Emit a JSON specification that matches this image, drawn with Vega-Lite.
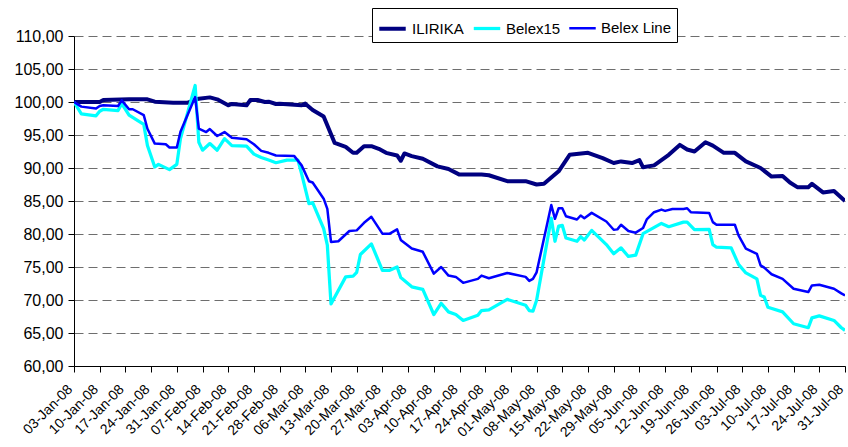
{
  "$schema": "https://vega.github.io/schema/vega-lite/v6.json",
  "width": 771,
  "height": 330,
  "autosize": "none",
  "padding": {"left": 74, "top": 36, "right": 3, "bottom": 81},
  "background": "white",
  "config": {
    "view": {"stroke": null},
    "font": "Liberation Sans"
  },
  "data": {
    "values": [
      {"date":"2008-01-03","series":"ILIRIKA","value":100.0},
      {"date":"2008-01-10","series":"ILIRIKA","value":100.0},
      {"date":"2008-01-11","series":"ILIRIKA","value":100.3},
      {"date":"2008-01-18","series":"ILIRIKA","value":100.4},
      {"date":"2008-01-23","series":"ILIRIKA","value":100.4},
      {"date":"2008-01-25","series":"ILIRIKA","value":100.05},
      {"date":"2008-01-30","series":"ILIRIKA","value":99.9},
      {"date":"2008-02-03","series":"ILIRIKA","value":99.9},
      {"date":"2008-02-06","series":"ILIRIKA","value":100.5},
      {"date":"2008-02-09","series":"ILIRIKA","value":100.7},
      {"date":"2008-02-11","series":"ILIRIKA","value":100.4},
      {"date":"2008-02-14","series":"ILIRIKA","value":99.5},
      {"date":"2008-02-15","series":"ILIRIKA","value":99.7},
      {"date":"2008-02-19","series":"ILIRIKA","value":99.5},
      {"date":"2008-02-20","series":"ILIRIKA","value":100.3},
      {"date":"2008-02-22","series":"ILIRIKA","value":100.3},
      {"date":"2008-02-24","series":"ILIRIKA","value":100.0},
      {"date":"2008-02-25","series":"ILIRIKA","value":100.05},
      {"date":"2008-02-27","series":"ILIRIKA","value":99.7},
      {"date":"2008-02-28","series":"ILIRIKA","value":99.75},
      {"date":"2008-03-05","series":"ILIRIKA","value":99.5},
      {"date":"2008-03-06","series":"ILIRIKA","value":99.75},
      {"date":"2008-03-08","series":"ILIRIKA","value":98.8},
      {"date":"2008-03-11","series":"ILIRIKA","value":97.8},
      {"date":"2008-03-14","series":"ILIRIKA","value":93.8},
      {"date":"2008-03-17","series":"ILIRIKA","value":93.2},
      {"date":"2008-03-19","series":"ILIRIKA","value":92.3},
      {"date":"2008-03-20","series":"ILIRIKA","value":92.3},
      {"date":"2008-03-22","series":"ILIRIKA","value":93.3},
      {"date":"2008-03-24","series":"ILIRIKA","value":93.3},
      {"date":"2008-03-26","series":"ILIRIKA","value":92.9},
      {"date":"2008-03-28","series":"ILIRIKA","value":92.3},
      {"date":"2008-03-31","series":"ILIRIKA","value":91.9},
      {"date":"2008-04-01","series":"ILIRIKA","value":91.1},
      {"date":"2008-04-02","series":"ILIRIKA","value":92.2},
      {"date":"2008-04-04","series":"ILIRIKA","value":91.8},
      {"date":"2008-04-07","series":"ILIRIKA","value":91.4},
      {"date":"2008-04-11","series":"ILIRIKA","value":90.25},
      {"date":"2008-04-14","series":"ILIRIKA","value":89.85},
      {"date":"2008-04-17","series":"ILIRIKA","value":89.0},
      {"date":"2008-04-23","series":"ILIRIKA","value":89.0},
      {"date":"2008-04-25","series":"ILIRIKA","value":88.9},
      {"date":"2008-04-30","series":"ILIRIKA","value":88.0},
      {"date":"2008-05-05","series":"ILIRIKA","value":88.0},
      {"date":"2008-05-08","series":"ILIRIKA","value":87.5},
      {"date":"2008-05-10","series":"ILIRIKA","value":87.6},
      {"date":"2008-05-14","series":"ILIRIKA","value":89.5},
      {"date":"2008-05-17","series":"ILIRIKA","value":92.0},
      {"date":"2008-05-22","series":"ILIRIKA","value":92.3},
      {"date":"2008-05-26","series":"ILIRIKA","value":91.5},
      {"date":"2008-05-29","series":"ILIRIKA","value":90.75},
      {"date":"2008-05-31","series":"ILIRIKA","value":91.0},
      {"date":"2008-06-03","series":"ILIRIKA","value":90.75},
      {"date":"2008-06-05","series":"ILIRIKA","value":91.2},
      {"date":"2008-06-06","series":"ILIRIKA","value":90.1},
      {"date":"2008-06-09","series":"ILIRIKA","value":90.4},
      {"date":"2008-06-13","series":"ILIRIKA","value":92.0},
      {"date":"2008-06-16","series":"ILIRIKA","value":93.5},
      {"date":"2008-06-18","series":"ILIRIKA","value":92.8},
      {"date":"2008-06-20","series":"ILIRIKA","value":92.5},
      {"date":"2008-06-23","series":"ILIRIKA","value":93.9},
      {"date":"2008-06-25","series":"ILIRIKA","value":93.4},
      {"date":"2008-06-28","series":"ILIRIKA","value":92.3},
      {"date":"2008-07-01","series":"ILIRIKA","value":92.3},
      {"date":"2008-07-04","series":"ILIRIKA","value":91.0},
      {"date":"2008-07-08","series":"ILIRIKA","value":90.0},
      {"date":"2008-07-11","series":"ILIRIKA","value":88.7},
      {"date":"2008-07-14","series":"ILIRIKA","value":88.8},
      {"date":"2008-07-16","series":"ILIRIKA","value":87.8},
      {"date":"2008-07-18","series":"ILIRIKA","value":87.1},
      {"date":"2008-07-21","series":"ILIRIKA","value":87.1},
      {"date":"2008-07-22","series":"ILIRIKA","value":87.6},
      {"date":"2008-07-25","series":"ILIRIKA","value":86.3},
      {"date":"2008-07-28","series":"ILIRIKA","value":86.5},
      {"date":"2008-07-31","series":"ILIRIKA","value":85.0},

      {"date":"2008-01-03","series":"Belex15","value":100.0},
      {"date":"2008-01-05","series":"Belex15","value":98.2},
      {"date":"2008-01-09","series":"Belex15","value":97.9},
      {"date":"2008-01-10","series":"Belex15","value":98.6},
      {"date":"2008-01-11","series":"Belex15","value":98.9},
      {"date":"2008-01-15","series":"Belex15","value":98.7},
      {"date":"2008-01-16","series":"Belex15","value":99.75},
      {"date":"2008-01-18","series":"Belex15","value":98.0},
      {"date":"2008-01-22","series":"Belex15","value":96.6},
      {"date":"2008-01-23","series":"Belex15","value":93.4},
      {"date":"2008-01-25","series":"Belex15","value":90.15},
      {"date":"2008-01-26","series":"Belex15","value":90.55},
      {"date":"2008-01-29","series":"Belex15","value":89.75},
      {"date":"2008-01-31","series":"Belex15","value":90.55},
      {"date":"2008-02-01","series":"Belex15","value":94.45},
      {"date":"2008-02-05","series":"Belex15","value":102.5},
      {"date":"2008-02-06","series":"Belex15","value":93.9},
      {"date":"2008-02-07","series":"Belex15","value":92.7},
      {"date":"2008-02-09","series":"Belex15","value":93.7},
      {"date":"2008-02-11","series":"Belex15","value":92.7},
      {"date":"2008-02-13","series":"Belex15","value":94.45},
      {"date":"2008-02-15","series":"Belex15","value":93.4},
      {"date":"2008-02-19","series":"Belex15","value":93.3},
      {"date":"2008-02-21","series":"Belex15","value":92.1},
      {"date":"2008-02-23","series":"Belex15","value":91.6},
      {"date":"2008-02-25","series":"Belex15","value":91.2},
      {"date":"2008-02-27","series":"Belex15","value":90.8},
      {"date":"2008-03-01","series":"Belex15","value":91.2},
      {"date":"2008-03-04","series":"Belex15","value":91.2},
      {"date":"2008-03-05","series":"Belex15","value":89.1},
      {"date":"2008-03-07","series":"Belex15","value":84.6},
      {"date":"2008-03-08","series":"Belex15","value":84.75},
      {"date":"2008-03-11","series":"Belex15","value":80.8},
      {"date":"2008-03-12","series":"Belex15","value":78.3},
      {"date":"2008-03-13","series":"Belex15","value":69.4},
      {"date":"2008-03-17","series":"Belex15","value":73.5},
      {"date":"2008-03-19","series":"Belex15","value":73.6},
      {"date":"2008-03-20","series":"Belex15","value":74.2},
      {"date":"2008-03-21","series":"Belex15","value":76.9},
      {"date":"2008-03-24","series":"Belex15","value":78.5},
      {"date":"2008-03-27","series":"Belex15","value":74.5},
      {"date":"2008-03-29","series":"Belex15","value":74.5},
      {"date":"2008-03-31","series":"Belex15","value":75.0},
      {"date":"2008-04-01","series":"Belex15","value":73.4},
      {"date":"2008-04-04","series":"Belex15","value":72.0},
      {"date":"2008-04-07","series":"Belex15","value":71.6},
      {"date":"2008-04-10","series":"Belex15","value":67.8},
      {"date":"2008-04-12","series":"Belex15","value":69.5},
      {"date":"2008-04-14","series":"Belex15","value":68.2},
      {"date":"2008-04-16","series":"Belex15","value":67.8},
      {"date":"2008-04-18","series":"Belex15","value":66.9},
      {"date":"2008-04-22","series":"Belex15","value":67.7},
      {"date":"2008-04-23","series":"Belex15","value":68.4},
      {"date":"2008-04-25","series":"Belex15","value":68.5},
      {"date":"2008-04-30","series":"Belex15","value":70.1},
      {"date":"2008-05-05","series":"Belex15","value":69.2},
      {"date":"2008-05-06","series":"Belex15","value":68.4},
      {"date":"2008-05-07","series":"Belex15","value":68.3},
      {"date":"2008-05-08","series":"Belex15","value":69.95},
      {"date":"2008-05-12","series":"Belex15","value":82.4},
      {"date":"2008-05-13","series":"Belex15","value":78.9},
      {"date":"2008-05-14","series":"Belex15","value":81.2},
      {"date":"2008-05-15","series":"Belex15","value":81.3},
      {"date":"2008-05-16","series":"Belex15","value":79.4},
      {"date":"2008-05-19","series":"Belex15","value":78.9},
      {"date":"2008-05-20","series":"Belex15","value":79.6},
      {"date":"2008-05-21","series":"Belex15","value":79.1},
      {"date":"2008-05-23","series":"Belex15","value":80.55},
      {"date":"2008-05-27","series":"Belex15","value":78.4},
      {"date":"2008-05-29","series":"Belex15","value":77.0},
      {"date":"2008-05-31","series":"Belex15","value":77.9},
      {"date":"2008-06-02","series":"Belex15","value":76.6},
      {"date":"2008-06-04","series":"Belex15","value":76.8},
      {"date":"2008-06-06","series":"Belex15","value":80.05},
      {"date":"2008-06-11","series":"Belex15","value":81.6},
      {"date":"2008-06-13","series":"Belex15","value":81.1},
      {"date":"2008-06-17","series":"Belex15","value":81.8},
      {"date":"2008-06-18","series":"Belex15","value":81.8},
      {"date":"2008-06-20","series":"Belex15","value":80.65},
      {"date":"2008-06-24","series":"Belex15","value":80.7},
      {"date":"2008-06-25","series":"Belex15","value":78.4},
      {"date":"2008-06-26","series":"Belex15","value":78.0},
      {"date":"2008-06-30","series":"Belex15","value":77.9},
      {"date":"2008-07-02","series":"Belex15","value":75.4},
      {"date":"2008-07-04","series":"Belex15","value":74.1},
      {"date":"2008-07-07","series":"Belex15","value":73.2},
      {"date":"2008-07-08","series":"Belex15","value":70.7},
      {"date":"2008-07-09","series":"Belex15","value":70.45},
      {"date":"2008-07-10","series":"Belex15","value":68.9},
      {"date":"2008-07-14","series":"Belex15","value":68.2},
      {"date":"2008-07-17","series":"Belex15","value":66.4},
      {"date":"2008-07-21","series":"Belex15","value":65.8},
      {"date":"2008-07-22","series":"Belex15","value":67.3},
      {"date":"2008-07-24","series":"Belex15","value":67.6},
      {"date":"2008-07-28","series":"Belex15","value":66.9},
      {"date":"2008-07-30","series":"Belex15","value":65.8},
      {"date":"2008-07-31","series":"Belex15","value":65.4},

      {"date":"2008-01-03","series":"Belex Line","value":100.0},
      {"date":"2008-01-05","series":"Belex Line","value":99.3},
      {"date":"2008-01-09","series":"Belex Line","value":99.0},
      {"date":"2008-01-10","series":"Belex Line","value":99.4},
      {"date":"2008-01-11","series":"Belex Line","value":99.5},
      {"date":"2008-01-15","series":"Belex Line","value":99.4},
      {"date":"2008-01-16","series":"Belex Line","value":100.25},
      {"date":"2008-01-18","series":"Belex Line","value":98.9},
      {"date":"2008-01-19","series":"Belex Line","value":98.9},
      {"date":"2008-01-22","series":"Belex Line","value":98.0},
      {"date":"2008-01-23","series":"Belex Line","value":95.95},
      {"date":"2008-01-25","series":"Belex Line","value":93.7},
      {"date":"2008-01-28","series":"Belex Line","value":93.6},
      {"date":"2008-01-29","series":"Belex Line","value":93.1},
      {"date":"2008-01-31","series":"Belex Line","value":93.1},
      {"date":"2008-02-01","series":"Belex Line","value":95.5},
      {"date":"2008-02-05","series":"Belex Line","value":100.75},
      {"date":"2008-02-06","series":"Belex Line","value":95.95},
      {"date":"2008-02-08","series":"Belex Line","value":95.45},
      {"date":"2008-02-09","series":"Belex Line","value":95.9},
      {"date":"2008-02-11","series":"Belex Line","value":94.85},
      {"date":"2008-02-13","series":"Belex Line","value":95.45},
      {"date":"2008-02-15","series":"Belex Line","value":94.6},
      {"date":"2008-02-19","series":"Belex Line","value":94.35},
      {"date":"2008-02-21","series":"Belex Line","value":93.6},
      {"date":"2008-02-23","series":"Belex Line","value":92.6},
      {"date":"2008-02-25","series":"Belex Line","value":92.3},
      {"date":"2008-02-27","series":"Belex Line","value":91.9},
      {"date":"2008-03-03","series":"Belex Line","value":91.8},
      {"date":"2008-03-05","series":"Belex Line","value":90.4},
      {"date":"2008-03-07","series":"Belex Line","value":88.0},
      {"date":"2008-03-08","series":"Belex Line","value":87.8},
      {"date":"2008-03-11","series":"Belex Line","value":85.35},
      {"date":"2008-03-12","series":"Belex Line","value":83.8},
      {"date":"2008-03-13","series":"Belex Line","value":78.8},
      {"date":"2008-03-15","series":"Belex Line","value":78.9},
      {"date":"2008-03-18","series":"Belex Line","value":80.45},
      {"date":"2008-03-20","series":"Belex Line","value":80.55},
      {"date":"2008-03-22","series":"Belex Line","value":81.7},
      {"date":"2008-03-24","series":"Belex Line","value":82.6},
      {"date":"2008-03-27","series":"Belex Line","value":80.05},
      {"date":"2008-03-29","series":"Belex Line","value":80.05},
      {"date":"2008-03-31","series":"Belex Line","value":80.7},
      {"date":"2008-04-01","series":"Belex Line","value":79.1},
      {"date":"2008-04-04","series":"Belex Line","value":77.8},
      {"date":"2008-04-07","series":"Belex Line","value":77.3},
      {"date":"2008-04-10","series":"Belex Line","value":74.0},
      {"date":"2008-04-12","series":"Belex Line","value":75.0},
      {"date":"2008-04-14","series":"Belex Line","value":73.7},
      {"date":"2008-04-16","series":"Belex Line","value":73.5},
      {"date":"2008-04-18","series":"Belex Line","value":72.6},
      {"date":"2008-04-22","series":"Belex Line","value":73.2},
      {"date":"2008-04-23","series":"Belex Line","value":73.7},
      {"date":"2008-04-25","series":"Belex Line","value":73.3},
      {"date":"2008-04-30","series":"Belex Line","value":74.1},
      {"date":"2008-05-05","series":"Belex Line","value":73.5},
      {"date":"2008-05-06","series":"Belex Line","value":72.9},
      {"date":"2008-05-07","series":"Belex Line","value":73.2},
      {"date":"2008-05-08","series":"Belex Line","value":74.2},
      {"date":"2008-05-12","series":"Belex Line","value":84.4},
      {"date":"2008-05-13","series":"Belex Line","value":82.3},
      {"date":"2008-05-14","series":"Belex Line","value":83.9},
      {"date":"2008-05-15","series":"Belex Line","value":83.9},
      {"date":"2008-05-16","series":"Belex Line","value":82.7},
      {"date":"2008-05-19","series":"Belex Line","value":82.2},
      {"date":"2008-05-20","series":"Belex Line","value":82.8},
      {"date":"2008-05-21","series":"Belex Line","value":82.4},
      {"date":"2008-05-23","series":"Belex Line","value":83.2},
      {"date":"2008-05-27","series":"Belex Line","value":81.9},
      {"date":"2008-05-29","series":"Belex Line","value":80.65},
      {"date":"2008-05-30","series":"Belex Line","value":80.7},
      {"date":"2008-05-31","series":"Belex Line","value":81.4},
      {"date":"2008-06-02","series":"Belex Line","value":80.45},
      {"date":"2008-06-04","series":"Belex Line","value":80.2},
      {"date":"2008-06-06","series":"Belex Line","value":80.9},
      {"date":"2008-06-07","series":"Belex Line","value":82.2},
      {"date":"2008-06-09","series":"Belex Line","value":83.3},
      {"date":"2008-06-11","series":"Belex Line","value":83.7},
      {"date":"2008-06-12","series":"Belex Line","value":83.5},
      {"date":"2008-06-14","series":"Belex Line","value":83.8},
      {"date":"2008-06-17","series":"Belex Line","value":83.8},
      {"date":"2008-06-18","series":"Belex Line","value":83.9},
      {"date":"2008-06-19","series":"Belex Line","value":83.3},
      {"date":"2008-06-24","series":"Belex Line","value":83.2},
      {"date":"2008-06-25","series":"Belex Line","value":81.8},
      {"date":"2008-06-26","series":"Belex Line","value":81.4},
      {"date":"2008-07-01","series":"Belex Line","value":81.4},
      {"date":"2008-07-02","series":"Belex Line","value":79.8},
      {"date":"2008-07-04","series":"Belex Line","value":77.8},
      {"date":"2008-07-07","series":"Belex Line","value":77.0},
      {"date":"2008-07-08","series":"Belex Line","value":75.25},
      {"date":"2008-07-09","series":"Belex Line","value":74.9},
      {"date":"2008-07-11","series":"Belex Line","value":73.9},
      {"date":"2008-07-14","series":"Belex Line","value":73.2},
      {"date":"2008-07-17","series":"Belex Line","value":71.7},
      {"date":"2008-07-21","series":"Belex Line","value":71.2},
      {"date":"2008-07-22","series":"Belex Line","value":72.2},
      {"date":"2008-07-24","series":"Belex Line","value":72.3},
      {"date":"2008-07-26","series":"Belex Line","value":72.0},
      {"date":"2008-07-28","series":"Belex Line","value":71.7},
      {"date":"2008-07-30","series":"Belex Line","value":71.0},
      {"date":"2008-07-31","series":"Belex Line","value":70.7}
    ]
  },
  "mark": {"type": "line", "strokeJoin": "round", "clip": true},
  "encoding": {
    "x": {
      "field": "date",
      "type": "temporal",
      "scale": {
        "type": "utc",
        "domain": [
          {"year": 2008, "month": 1, "date": 3, "utc": true},
          {"year": 2008, "month": 7, "date": 31, "utc": true}
        ],
        "nice": false
      },
      "axis": {
        "title": null,
        "values": [
          {"year":2008,"month":1,"date":3,"utc":true},
          {"year":2008,"month":1,"date":10,"utc":true},
          {"year":2008,"month":1,"date":17,"utc":true},
          {"year":2008,"month":1,"date":24,"utc":true},
          {"year":2008,"month":1,"date":31,"utc":true},
          {"year":2008,"month":2,"date":7,"utc":true},
          {"year":2008,"month":2,"date":14,"utc":true},
          {"year":2008,"month":2,"date":21,"utc":true},
          {"year":2008,"month":2,"date":28,"utc":true},
          {"year":2008,"month":3,"date":6,"utc":true},
          {"year":2008,"month":3,"date":13,"utc":true},
          {"year":2008,"month":3,"date":20,"utc":true},
          {"year":2008,"month":3,"date":27,"utc":true},
          {"year":2008,"month":4,"date":3,"utc":true},
          {"year":2008,"month":4,"date":10,"utc":true},
          {"year":2008,"month":4,"date":17,"utc":true},
          {"year":2008,"month":4,"date":24,"utc":true},
          {"year":2008,"month":5,"date":1,"utc":true},
          {"year":2008,"month":5,"date":8,"utc":true},
          {"year":2008,"month":5,"date":15,"utc":true},
          {"year":2008,"month":5,"date":22,"utc":true},
          {"year":2008,"month":5,"date":29,"utc":true},
          {"year":2008,"month":6,"date":5,"utc":true},
          {"year":2008,"month":6,"date":12,"utc":true},
          {"year":2008,"month":6,"date":19,"utc":true},
          {"year":2008,"month":6,"date":26,"utc":true},
          {"year":2008,"month":7,"date":3,"utc":true},
          {"year":2008,"month":7,"date":10,"utc":true},
          {"year":2008,"month":7,"date":17,"utc":true},
          {"year":2008,"month":7,"date":24,"utc":true},
          {"year":2008,"month":7,"date":31,"utc":true}
        ],
        "labelExpr": "utcFormat(datum.value, '%d-%b-%y')",
        "labelAngle": -45,
        "labelAlign": "right",
        "labelBaseline": "middle",
        "labelFontSize": 14,
        "labelColor": "black",
        "labelOverlap": false,
        "labelFlush": false,
        "labelBound": false,
        "labelPadding": 15,
        "labelOffset": -4,
        "tickSize": 6,
        "tickColor": "black",
        "domainColor": "black",
        "grid": false
      }
    },
    "y": {
      "field": "value",
      "type": "quantitative",
      "scale": {"domain": [60, 110], "nice": false, "zero": false},
      "axis": {
        "title": null,
        "values": [60, 65, 70, 75, 80, 85, 90, 95, 100, 105, 110],
        "labelExpr": "replace(format(datum.value, '.2f'), '.', ',')",
        "labelFontSize": 16,
        "labelColor": "black",
        "labelPadding": 5,
        "tickSize": 6,
        "tickColor": "black",
        "domainColor": "black",
        "grid": true,
        "gridColor": "#6e6e6e",
        "gridDash": [9, 5],
        "gridWidth": 1
      }
    },
    "color": {
      "field": "series",
      "type": "nominal",
      "scale": {
        "domain": ["ILIRIKA", "Belex15", "Belex Line"],
        "range": ["#000080", "#00FFFF", "#0000FF"]
      },
      "legend": {
        "title": null,
        "orient": "none",
        "legendX": 298,
        "legendY": -28,
        "direction": "horizontal",
        "strokeColor": "black",
        "fillColor": "white",
        "padding": 5,
        "labelFontSize": 15,
        "labelColor": "black",
        "labelLimit": 0,
        "labelOffset": 4,
        "columnPadding": 3,
        "symbolType": "stroke",
        "symbolSize": 700,
        "symbolStrokeWidth": 3
      }
    },
    "strokeWidth": {
      "field": "series",
      "type": "nominal",
      "scale": {
        "domain": ["ILIRIKA", "Belex15", "Belex Line"],
        "range": [4, 2.5, 2.5]
      },
      "legend": null
    },
    "order": {"field": "date", "type": "temporal"}
  }
}
